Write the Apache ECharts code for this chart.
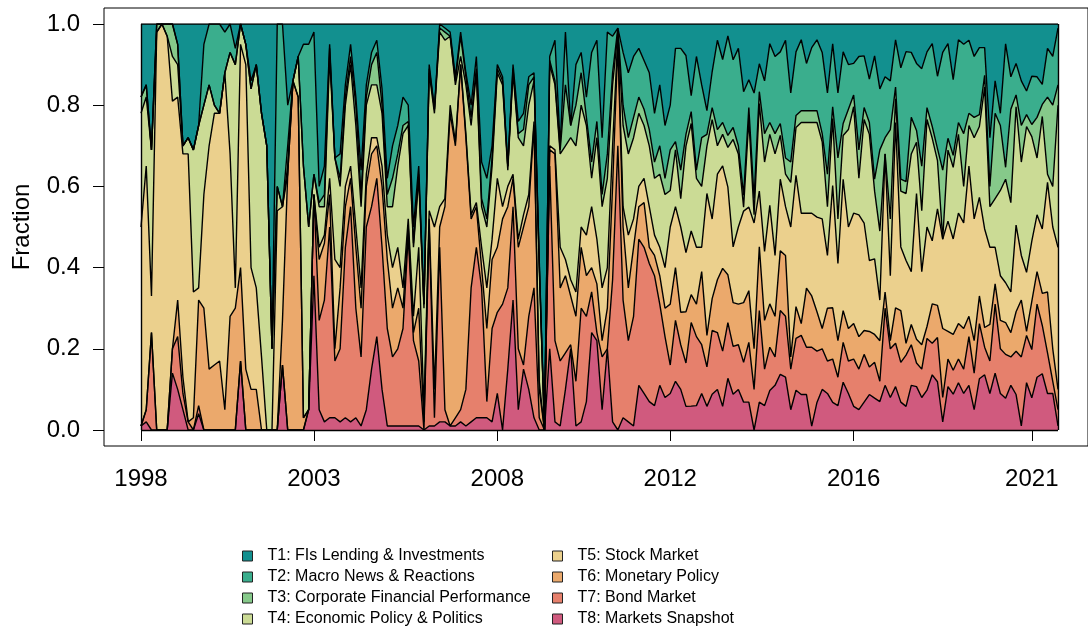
<!DOCTYPE html>
<html><head><meta charset="utf-8">
<script src="https://cdn.jsdelivr.net/npm/echarts@6/dist/echarts.min.js"></script>
<style>html,body{margin:0;padding:0;background:#fff}#c{width:1088px;height:627px}</style>
</head><body><div id="c"></div>
<script>
const seriesNames = ['T1: FIs Lending & Investments','T2: Macro News & Reactions','T3: Corporate Financial Performance','T4: Economic Policy & Politics','T5: Stock Market','T6: Monetary Policy','T7: Bond Market','T8: Markets Snapshot'];
const seriesColors = ['#12908f','#3aae8d','#86c98a','#cbdb95','#ebd08d','#eba96c','#e6806c','#d05a7e'];

const t1 = [.18,.15,.31,0,0,0,0,.05,.30,.28, .31,.25,.05,0,0,0,.02,0,.06,0, .05,.14,.10,.22,.30,.80,0,0,.20,.14, .08,.05,.05,.02,
 .40,.35,.05,.33,.32,.15, .05,.18,.36,.15,.07,.04,.16,.38,.30,.25, .18,.20,.50,.35,.69,.10,.21,0,.01,.02,
 .13,.02,.12,.20,.08,.34,.38,.30,.10,.13, .35,.10,.24,.22,.13,.12,.58,1,.08,.04, .30,.02,.25,.10,.07,.18,.07,.04,.28,.02,
 .03,.01,.07,.12,.08,.06,.09,.12,.22,.15, .25,.20,.06,.06,.08,.18,.08,.15,.22,.12, .04,.09,.03,.09,.06,.17,.14,.17,.10,.14,
 .05,.08,.07,.04,.17,.07,.04,.10,.06,.04, .07,.17,.05,.17,.07,.10,.10,.08,.08,.14, .08,.16,.13,.14,.04,.11,.07,.07,.10,.11,
 .07,.05,.13,.07,.05,.14,.04,.05,.04,.08, .06,.06,.28,.14,.22,.05,.13,.10,.14,.17, .13,.13,.15,.06,.08,.01];
const t2 = [0,0,0,0,0,0,0,0,0,0, 0,0,.15,.15,.20,.22,.10,.07,.04,0, 0,.02,0,0,0,0,.40,.45,.10,0, 0,.30,.45,.35,
 .04,.07,.01,0,.06,.03, .03,.02,.06,.03,.03,.03,.04,.04,.08,.07, .07,.04,.04,.02,0,.01,0,.01,.01,.01,
 .01,.01,.01,.03,.03,.09,.10,.03,.01,.01, 0,.01,.03,.04,.02,.01,.01,0,.01,.10, .01,.13,0,.10,.05,.05,.27,.20,.14,.30,
 .09,0,.13,.16,.15,.12,.12,.14,.12,.15, .13,.11,.23,.30,.20,.04,.28,.13,.06,.09, .22,.16,.25,.17,.24,.26,.07,.26,.07,.13,
 .20,.19,.18,.29,.17,.16,.18,.12,.16,.18, .20,.20,.16,.16,.18,.11,.08,.23,.13,.11, .31,.15,.15,.12,.12,.28,.33,.16,.17,.24,
 .14,.21,.18,.29,.24,.19,.21,.22,.18,.15, .17,.07,.12,.08,.03,.31,.08,.08,.11,.06, .12,.10,.05,.12,.12,.14];
const t3 = [.04,.03,0,.02,0,.03,.08,.05,0,0, 0,0,0,0,0,0,0,0,0,0, 0,0,0,0,0,0,0,0,.05,0, 0,0,0,0,
 .01,.03,.02,0,.02,.02, .02,.05,.03,.02,.05,.08,.02,.03,.07,.03, .02,.01,.01,.01,.01,.01,.01,.01,.02,0,
 .01,.05,.02,.02,.01,.02,.02,.02,.01,.01, .01,.01,.01,.04,.05,.01,.01,0,.01,.01, .01,.15,.03,.10,.08,.02,.04,.04,.03,.06,
 .03,.01,.05,.04,.05,.04,.04,.04,.04,.07, .04,.10,.02,.07,.03,.03,.02,.12,.03,.03, .04,.03,.03,.03,.02,.03,.03,.04,.03,.07,
 .03,.05,.03,.04,.05,.03,.03,.03,.03,.03, .02,.08,.03,.15,.03,.05,.03,.07,.03,.03, .03,.20,.04,.22,.03,.03,.03,.09,.03,.11,
 .03,.03,.03,.17,.03,.03,.03,.13,.03,.05, .03,.03,.05,.21,.16,.03,.23,.03,.09,.03, .03,.10,.03,.19,.20,.05];
const t4 = [.28,.17,.36,0,0,0,.11,.08,.02,.04, .35,.40,.22,.15,.02,0,0,.25,.55,.05, .05,.44,.55,.60,.70,.20,.06,0,.02,0, .10,.62,.45,.05,
 .10,.07,.30,.25,.20,.20, .25,.25,.20,.17,.13,.13,.13,.07,.15,.20, .38,.23,.17,.17,.25,.34,.28,.43,.39,.17,
 .14,.02,.12,.22,.32,.10,.15,.18,.26,.30, .04,.25,.25,.17,.22,.10,.28,0,.20,.16, .23,.28,.35,.36,.30,.27,.07,.25,.20,.22,
 .15,.01,.20,.20,.20,.18,.13,.15,.14,.18, .18,.09,.14,.07,.27,.27,.17,.15,.12,.25, .07,.08,.10,.27,.18,.01,.22,.02,.22,.22,
 .18,.25,.11,.08,.11,.12,.23,.23,.23,.24, .19,.12,.17,.11,.11,.24,.27,.09,.26,.32, .17,.17,0,.14,.06,.14,.17,.29,.13,.15,
 .27,.26,.12,0,.18,.18,.20,.09,.10,.20, .18,.36,.10,.12,.21,.26,.22,.30,.23,.37, .26,.14,.28,.02,.10,.35];
const t5 = [.49,.60,.09,.98,1,.97,.61,.50,.55,.66, .31,.03,.28,.55,.62,.61,.83,.40,.05,.55, .75,.30,.25,.18,0,0,.54,.28,0,0, 0,0,0,0,
 .03,.02,.04,.22,.05,.05, .03,.05,.05,.03,.04,.02,.05,.06,.10,.10, .05,.02,.04,.15,.03,.02,.40,.05,.02,.02,
 .01,0,.01,.01,.01,.05,.10,.05,.17,.03, .05,.01,.02,.03,.03,.01,.02,0,.01,.01, .10,.04,.04,.06,.05,.10,.15,.11,.13,.10,
 .10,.02,.05,.13,.07,.05,.06,.10,.05,.07, .10,.19,.15,.21,.15,.16,.14,.06,.36,.20, .26,.26,.22,.14,.19,.23,.21,.31,.14,.17,
 .25,.15,.18,.12,.32,.33,.28,.19,.21,.24, .27,.13,.31,.19,.33,.25,.28,.30,.27,.18, .19,.10,.34,.16,.47,.16,.21,.13,.37,.18,
 .25,.16,.24,.22,.28,.24,.28,.26,.37,.30, .25,.25,.19,.09,.11,.10,.10,.22,.11,.15, .15,.14,.16,.27,.30,.35];
const t6 = [0,0,0,0,0,0,0,.09,.04,0, .03,.26,.30,.15,.16,.17,.05,.28,.30,.23, .15,.10,.10,0,0,0,0,.11,.63,.86, .82,.03,0,0,
 .15,.14,.08,.03,.15,.10, .07,.15,.12,.10,.13,.08,.15,.17,.12,.15, .05,.02,.02,.13,.02,.02,.07,.05,.50,.77,
 .67,.85,.62,.17,.10,.05,.18,.17,.16,.21, .20,.07,.25,.34,.27,.40,.07,0,.04,.46, .18,.19,.12,.16,.15,.10,.06,.12,.04,.10,
 .23,.25,.18,.13,.17,.08,.11,.04,.05,.07, .07,.15,.13,.08,.13,.07,.08,.18,.08,.08, .13,.21,.12,.11,.10,.15,.13,.10,.16,.12,
 .11,.10,.15,.15,.03,.08,.03,.15,.13,.10, .05,.13,.13,.09,.08,.08,.09,.08,.06,.09, .07,.10,.04,.02,.09,.13,.03,.05,.06,.06,
 .03,.10,.08,.17,.07,.09,.09,.10,.05,.08, .07,.05,.09,.05,.07,.08,.06,.10,.14,.01, .12,.08,.08,.15,.08,.05];
const t7 = [0,.03,.24,0,0,0,.06,.13,.04,.02, 0,.02,0,0,0,0,0,0,0,0, 0,0,0,0,0,0,0,0,0,0, 0,0,0,.20,
 .22,.30,.47,.14,.18,.42, .53,.27,.17,.45,.40,.39,.35,.24,.17,.19, .24,.47,.21,.16,0,.49,.02,.43,.03,0,
 .02,.03,.09,.33,.42,.32,.04,.23,.20,.31, .20,.23,.15,.01,.18,.32,.03,0,.45,.20, .16,.09,.01,.11,.28,.21,.10,.02,.13,0,
 .35,.70,.29,.20,.27,.36,.36,.34,.32,.20, .15,.07,.15,.11,.11,.21,.17,.12,.10,.16, .14,.14,.14,.12,.11,.10,.15,.10,.23,.09,
 .11,.07,.16,.15,.10,.13,.15,.12,.20,.13, .10,.08,.11,.07,.10,.08,.12,.10,.12,.07, .09,.05,.19,.12,.11,.10,.13,.10,.06,.07,
 .13,.08,.11,.06,.07,.06,.06,.06,.12,.09, .14,.07,.08,.17,.11,.11,.07,.11,.17,.12, .12,.18,.12,.10,.03,.04];
const t8 = [.01,.02,0,0,0,0,.14,.10,.05,0, 0,.04,0,0,0,0,0,0,0,.17, 0,0,0,0,0,0,0,.16,0,0, 0,0,.05,.38,
 .05,.02,.03,.03,.02,.03, .02,.03,.01,.05,.15,.23,.10,.01,.01,.01, .01,.01,.01,.01,0,.01,.01,.02,.02,.01,
 .01,.02,.01,.02,.03,.03,.03,.02,.09,0, .15,.32,.05,.15,.10,.03,0,0,.20,.02, .01,.10,.20,.01,.02,.07,.24,.22,.05,.20,
 .02,0,.03,.02,.01,.11,.09,.07,.06,.11, .08,.09,.12,.10,.06,.06,.06,.09,.06,.09, .10,.06,.13,.09,.10,.07,.07,0,.07,.06,
 .10,.11,.14,.13,.05,.10,.09,.09,.01,.07, .10,.09,.07,.06,.12,.09,.06,.05,.07,.09, .08,.07,.11,.08,.11,.07,.06,.11,.11,.08,
 .10,.14,.12,.02,.11,.09,.12,.09,.11,.05, .13,.14,.09,.14,.09,.08,.11,.09,.01,.12, .08,.13,.14,.09,.09,.01];

const tickIndex = [0, 33, 68, 101, 136, 170];
const tickLabels = ['1998', '2003', '2008', '2012', '2016', '2021'];

const raw = [t1, t2, t3, t4, t5, t6, t7, t8];
const N = t1.length;
raw.forEach((a, k) => { if (a.length !== N) throw new Error('length mismatch series ' + (k + 1) + ': ' + a.length + ' vs ' + N); });
const categories = t1.map((_, i) => String(i));
const frac = raw.map(a => a.map((v, i) => {
  let s = 0; raw.forEach(r => { s += r[i]; });
  return s > 0 ? v / s : 0;
}));

const FONT = "'Liberation Sans', Arial, Helvetica, sans-serif";
const series = [];
for (let k = 7; k >= 0; k--) {
  const s = {
    name: seriesNames[k], type: 'line', stack: 'total', data: frac[k],
    xAxisIndex: 0, yAxisIndex: 0,
    symbol: 'none', showSymbol: false, smooth: false,
    lineStyle: { color: '#000', width: 1.4 },
    areaStyle: { color: seriesColors[k], opacity: 1 },
    itemStyle: { color: seriesColors[k] },
    emphasis: { disabled: true }, silent: true
  };
  if (k === 0) {
    s.markLine = {
      symbol: 'none', silent: true, label: { show: false },
      lineStyle: { color: '#000', width: 1.4, type: 'solid' },
      data: [{ xAxis: categories[0] }, { xAxis: categories[N - 1] }, { yAxis: 0 }]
    };
  }
  series.push(s);
}

const legendBase = {
  orient: 'vertical', icon: 'rect', itemWidth: 10, itemHeight: 10, itemGap: 5,
  padding: 0, selectedMode: false,
  itemStyle: { borderColor: '#222', borderWidth: 1 },
  textStyle: { fontFamily: FONT, fontSize: 16, color: '#000', lineHeight: 16, padding: [0, 0, 0, 10] }
};

const chart = echarts.init(document.getElementById('c'), null, { renderer: 'canvas' });
chart.setOption({
  animation: false,
  backgroundColor: '#fff',
  textStyle: { fontFamily: FONT },
  grid: [
    { left: 141, right: 30, top: 24, bottom: 197, show: false },
    { left: 104, right: -7, top: 8, bottom: 181, show: true, borderColor: '#000', borderWidth: 1, backgroundColor: 'transparent' }
  ],
  xAxis: [
    {
      gridIndex: 0, type: 'category', data: categories, boundaryGap: false, offset: 16,
      axisLine: { show: false },
      axisTick: { show: true, length: 11, interval: (i) => tickIndex.includes(i), lineStyle: { color: '#000', width: 1 } },
      axisLabel: {
        show: true, interval: (i) => tickIndex.includes(i), margin: 21,
        fontSize: 24, color: '#000', fontFamily: FONT,
        formatter: (v, i) => { const j = tickIndex.indexOf(Number(v)); return j >= 0 ? tickLabels[j] : ''; }
      },
      splitLine: { show: false }
    },
    { gridIndex: 1, type: 'value', show: false, min: 0, max: 1 }
  ],
  yAxis: [
    {
      gridIndex: 0, type: 'value', min: 0, max: 1, interval: 0.2, offset: 37,
      name: 'Fraction', nameLocation: 'middle', nameRotate: 90, nameGap: 70,
      nameTextStyle: { fontSize: 24, color: '#000', fontFamily: FONT },
      axisLine: { show: false },
      axisTick: { show: true, length: 11, lineStyle: { color: '#000', width: 1 } },
      axisLabel: { margin: 24, fontSize: 24, color: '#000', fontFamily: FONT, formatter: (v) => v.toFixed(1) },
      splitLine: { show: false }
    },
    { gridIndex: 1, type: 'value', show: false, min: 0, max: 1 }
  ],
  legend: [
    Object.assign({}, legendBase, { left: 242, top: 548, data: seriesNames.slice(0, 4) }),
    Object.assign({}, legendBase, { left: 552, top: 548, data: seriesNames.slice(4, 8) })
  ],
  series: series
});
</script>
</body></html>
